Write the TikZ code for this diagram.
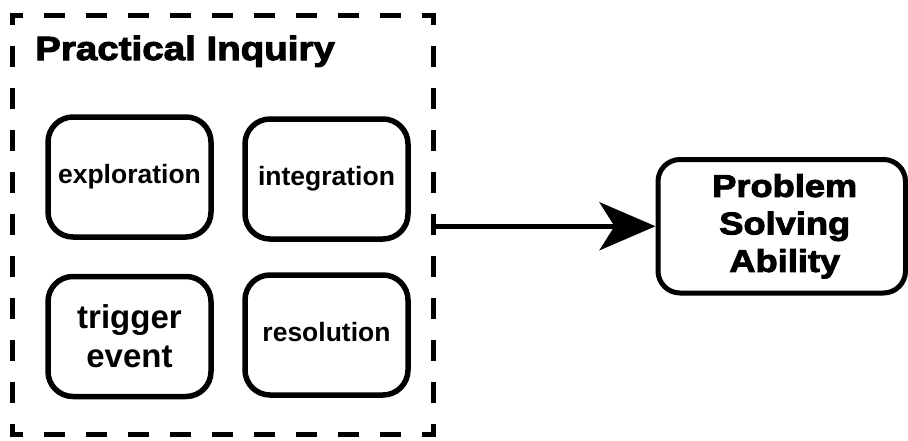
\documentclass[tikz,border=0pt]{standalone}
\usepackage{fontspec}
\setmainfont{Liberation Sans}
\newfontfamily\heavyfont{Liberation Sans}[FakeStretch=1.15,BoldFeatures={FakeBold=3}]
\usetikzlibrary{arrows.meta}
\begin{document}
\begin{tikzpicture}[x=1pt,y=-1pt,
  inbox/.style={draw, line width=5.5pt, rounded corners=25pt,
    minimum width=163pt, minimum height=120pt, inner sep=0pt, align=center,
    font=\bfseries\fontsize{26.5}{32}\selectfont},
  oneline/.style={text height=19.5pt, text depth=7.5pt},
  bigbox/.style={draw, line width=5pt, rounded corners=22pt,
    minimum width=247.5pt, minimum height=133.5pt, inner sep=0pt, align=center,
    font=\heavyfont\bfseries\fontsize{31.5}{37.5}\selectfont},
  groupline/.style={line width=5pt, dash pattern=on 21pt off 21pt, dash phase=10.5pt},
  conn/.style={line width=5pt, -{Stealth[length=56pt,width=48pt,inset=15pt]}}
]
\path[fill=white,use as bounding box] (0,0) rectangle (908,440);

% group frame
\draw[groupline] (222.5,15) -- (433,15) -- (433,434) -- (12,434) -- (12,15) -- cycle;
\node[anchor=base west, inner sep=0pt, font=\heavyfont\bfseries\fontsize{33.5}{40}\selectfont] (title) at (35,60) {Practical Inquiry};

% inner boxes
\node[inbox, oneline] (explo) at (129.5,177) {exploration};
\node[inbox, oneline] (integ) at (326.5,179) {integration};
\node[inbox, font=\bfseries\fontsize{33}{39}\selectfont] (trig) at (129.5,336.5) {trigger\\event};
\node[inbox, oneline] (resol) at (326.5,335) {resolution};

% outcome
\node[bigbox] (psa) at (781.75,226.25) {\hspace*{6pt}Problem\\\hspace*{6pt}Solving\\\hspace*{6pt}Ability};

\coordinate (src) at (433,226.25);
\draw[conn] (src) -- (src -| psa.west);
\end{tikzpicture}
\end{document}
